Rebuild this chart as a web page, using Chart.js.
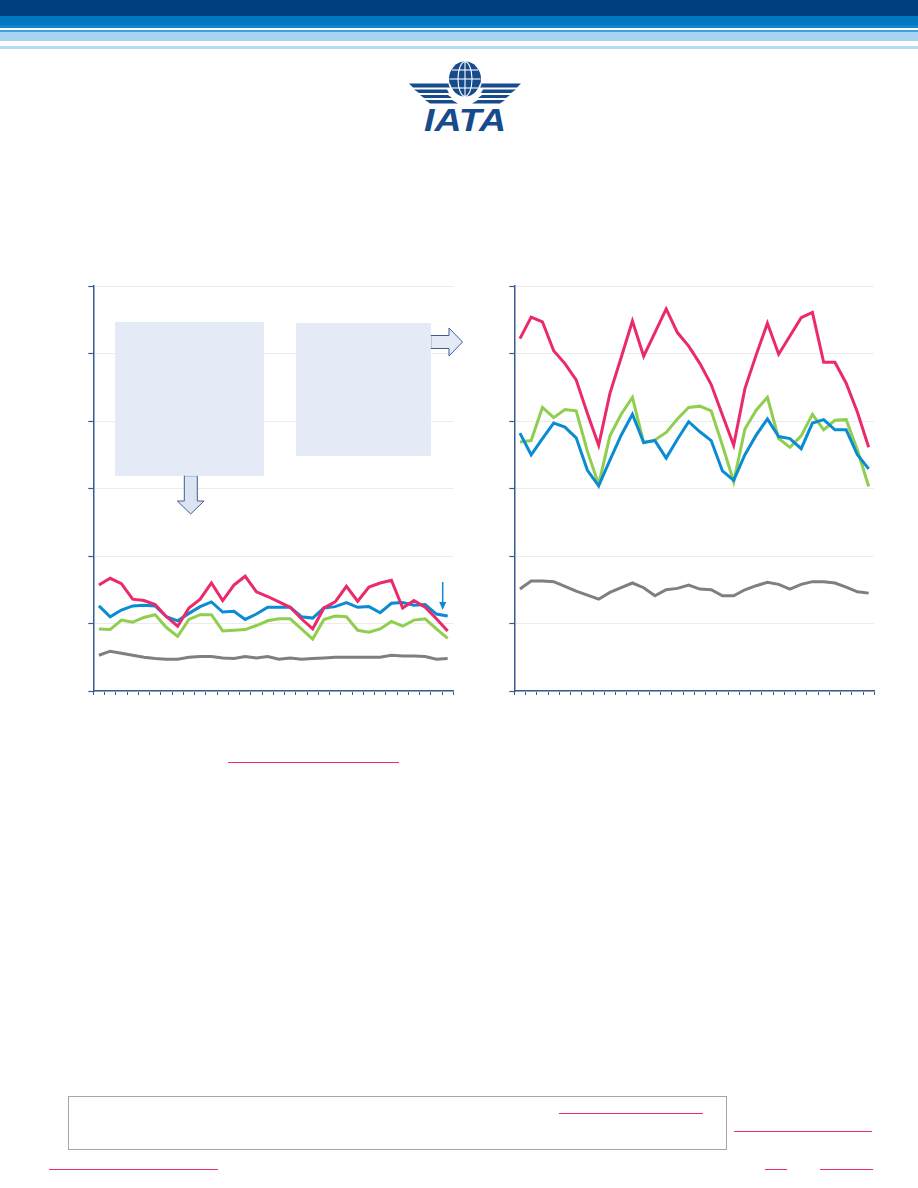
<!DOCTYPE html>
<html>
<head>
<meta charset="utf-8">
<script src="https://cdn.jsdelivr.net/npm/chart.js@4.4.1/dist/chart.umd.min.js"></script>
<style>
  html, body { margin: 0; padding: 0; background: #ffffff; }
  body { width: 918px; height: 1188px; position: relative; overflow: hidden; font-family: "Liberation Sans", Arial, sans-serif; }
  .abs { position: absolute; }
  .band { position: absolute; left: 0; width: 918px; }
  .ul { position: absolute; height: 0; border-top: 1.5px solid #EF2A74; }
</style>
</head>
<body>
<script>
// ---------- DATA ----------
const categories = ['1','2','3','4','5','6','7','8','9','10','11','12','13','14','15','16',
                    '17','18','19','20','21','22','23','24','25','26','27','28','29','30','31','32'];
const yTicks = [0, 1, 2, 3, 4, 5, 6];

// Left panel
const leftRed   = [1.57,1.67,1.59,1.36,1.34,1.28,1.10,0.96,1.23,1.36,1.60,1.34,1.57,1.70,1.47,1.40,
                   1.32,1.24,1.07,0.92,1.23,1.32,1.55,1.33,1.54,1.60,1.64,1.23,1.34,1.24,1.07,0.89];
const leftBlue  = [1.26,1.10,1.20,1.26,1.27,1.26,1.10,1.04,1.15,1.25,1.32,1.17,1.18,1.06,1.14,1.24,
                   1.24,1.24,1.10,1.08,1.23,1.25,1.31,1.24,1.25,1.16,1.30,1.31,1.27,1.28,1.14,1.11];
const leftGreen = [0.92,0.91,1.05,1.02,1.09,1.13,0.94,0.81,1.06,1.13,1.13,0.89,0.90,0.91,0.97,1.04,
                   1.07,1.07,0.92,0.77,1.06,1.11,1.10,0.90,0.87,0.92,1.03,0.96,1.05,1.07,0.92,0.78];
const leftGray  = [0.53,0.59,0.56,0.53,0.50,0.48,0.47,0.47,0.50,0.51,0.51,0.49,0.48,0.51,0.49,0.51,
                   0.47,0.49,0.47,0.48,0.49,0.50,0.50,0.50,0.50,0.50,0.53,0.52,0.52,0.51,0.47,0.48];

// Right panel
const rightRed   = [5.22,5.54,5.47,5.04,4.85,4.61,4.11,3.64,4.41,4.94,5.48,4.96,5.31,5.66,5.31,5.11,
                    4.85,4.54,4.09,3.64,4.48,4.98,5.45,4.99,5.26,5.53,5.61,4.87,4.87,4.56,4.13,3.61];
const rightBlue  = [3.82,3.50,3.74,3.97,3.91,3.75,3.27,3.04,3.42,3.79,4.10,3.68,3.71,3.45,3.73,3.99,
                    3.84,3.71,3.26,3.12,3.50,3.79,4.03,3.77,3.74,3.59,3.97,4.02,3.87,3.87,3.50,3.29];
const rightGreen = [3.69,3.71,4.20,4.05,4.17,4.15,3.55,3.06,3.78,4.10,4.35,3.68,3.72,3.83,4.03,4.20,
                    4.22,4.15,3.64,3.10,3.88,4.16,4.35,3.74,3.61,3.78,4.10,3.87,4.01,4.02,3.57,3.03];
const rightGray  = [1.51,1.63,1.63,1.62,1.55,1.48,1.42,1.36,1.46,1.53,1.60,1.53,1.41,1.50,1.52,1.57,
                    1.51,1.50,1.41,1.41,1.50,1.56,1.61,1.58,1.51,1.58,1.62,1.62,1.60,1.54,1.47,1.45];

const seriesColors = { red: '#EA2A6B', blue: '#0A8BD3', green: '#8FCE4F', gray: '#7F7F7F' };
</script>

<!-- Header bands -->
<div class="band" style="top:0;height:16px;background:#003F7E;"></div>
<div class="band" style="top:16px;height:9px;background:#0078C0;"></div>
<div class="band" style="top:25px;height:3px;background:#0A86CC;"></div>
<div class="band" style="top:30px;height:2px;background:#3FA2DE;"></div>
<div class="band" style="top:32px;height:9px;background:#A6D4F2;"></div>
<div class="band" style="top:46px;height:3px;background:#B6DCF5;"></div>

<!-- Logo -->
<svg class="abs" style="left:400px;top:55px;" width="130" height="85" viewBox="400 55 130 85">
  <g fill="#164B8C">
    <ellipse cx="465" cy="79" rx="16" ry="17.5"/>
    <!-- left wing -->
    <polygon points="409,83.5 449,83.5 450,87.5 413,87.5"/>
    <polygon points="414,89.5 447,89.5 449,93 419,93"/>
    <polygon points="420,95 448,95 452,98 424,98"/>
    <polygon points="425,100 452,100 458,103.5 430,103.5"/>
    <!-- right wing -->
    <polygon points="521,83.5 481,83.5 480,87.5 517,87.5"/>
    <polygon points="516,89.5 483,89.5 481,93 511,93"/>
    <polygon points="510,95 482,95 478,98 506,98"/>
    <polygon points="505,100 478,100 472,103.5 500,103.5"/>
  </g>
  <g fill="none" stroke="#ffffff" stroke-width="1.1">
    <line x1="465" y1="61.5" x2="465" y2="96.5"/>
    <ellipse cx="465" cy="79" rx="7" ry="17.3"/>
    <line x1="449.5" y1="79" x2="480.5" y2="79"/>
    <line x1="452" y1="70" x2="478" y2="70"/>
    <line x1="452" y1="88" x2="478" y2="88"/>
    <path d="M449,83.5 Q456,101 465,97 Q474,101 481,83.5" stroke-width="1.6"/>
  </g>
  <text x="465" y="131" text-anchor="middle" font-family="Liberation Sans, Arial, sans-serif" font-weight="bold" font-style="italic" font-size="31" fill="#164B8C" textLength="82" lengthAdjust="spacingAndGlyphs">IATA</text>
</svg>

<!-- Charts -->
<canvas id="leftChart" class="abs" style="left:60px;top:270px;" width="420" height="440"></canvas>
<canvas id="rightChart" class="abs" style="left:480px;top:270px;" width="420" height="440"></canvas>

<!-- Left panel annotation boxes and arrows -->
<svg class="abs" style="left:0;top:0;" width="918" height="720" viewBox="0 0 918 720">
  <rect x="115" y="322" width="149" height="154" fill="#E4EBF6"/>
  <rect x="296" y="323" width="135" height="133" fill="#E4EBF6"/>
  <!-- right arrow -->
  <polygon points="431,335.5 449,335.5 449,328 462.5,342 449,356 449,348.5 431,348.5" fill="#E4EBF6" stroke="#3E5E93" stroke-width="1"/>
  <rect x="430" y="336" width="1.5" height="12" fill="#E4EBF6"/>
  <!-- down arrow -->
  <polygon points="184.3,476 184.3,501 177.3,501 190.7,514 204,501 197.3,501 197.3,476" fill="#DCE4F1" stroke="#3E5E93" stroke-width="1"/>
  <rect x="185" y="475" width="12" height="1.5" fill="#DCE4F1"/>
  <!-- small blue arrow -->
  <line x1="442.7" y1="582" x2="442.7" y2="603" stroke="#0A8BD3" stroke-width="1.5"/>
  <polygon points="439.2,602 446.2,602 442.7,610" fill="#0A8BD3"/>
</svg>

<!-- link underlines -->
<div class="ul" style="left:228px;top:762px;width:171px;"></div>

<!-- Footer -->
<div class="abs" style="left:68px;top:1096px;width:657px;height:52px;border:1.5px solid #A6A6A6;"></div>
<div class="ul" style="left:559px;top:1113px;width:144px;"></div>
<div class="ul" style="left:734px;top:1131px;width:138px;"></div>
<div class="ul" style="left:49px;top:1169px;width:169px;"></div>
<div class="ul" style="left:765px;top:1169px;width:22px;"></div>
<div class="ul" style="left:820px;top:1169px;width:53px;"></div>

<script>
const navy = '#3B5A8F';
function makeOptions(padLeft, padRight) {
  return {
    responsive: false,
    animation: false,
    events: [],
    layout: { padding: { left: padLeft, right: padRight, top: 16, bottom: 15 } },
    plugins: { legend: { display: false }, tooltip: { enabled: false }, title: { display: false } },
    elements: { point: { radius: 0 }, line: { borderWidth: 3, tension: 0, borderJoinStyle: 'miter', borderCapStyle: 'butt' } },
    scales: {
      x: {
        type: 'category',
        offset: true,
        grid: { offset: true, drawOnChartArea: false, drawTicks: true, tickLength: 4, tickColor: navy, tickWidth: 1 },
        border: { display: true, color: navy, width: 1.5 },
        ticks: { display: false }
      },
      y: {
        min: yTicks[0],
        max: yTicks[yTicks.length - 1],
        afterBuildTicks: (axis) => { axis.ticks = yTicks.map(v => ({ value: v })); },
        grid: { color: '#ECECEC', lineWidth: 1, drawTicks: true, tickLength: 5, tickColor: navy, tickWidth: 1.2 },
        border: { display: true, color: navy, width: 1.5 },
        ticks: { display: false }
      }
    }
  };
}
function ds(data, color) {
  return { data: data, borderColor: color, backgroundColor: color, fill: false, pointRadius: 0 };
}
new Chart(document.getElementById('leftChart'), {
  type: 'line',
  data: {
    labels: categories,
    datasets: [
      ds(leftRed, seriesColors.red),
      ds(leftBlue, seriesColors.blue),
      ds(leftGreen, seriesColors.green),
      ds(leftGray, seriesColors.gray)
    ]
  },
  options: makeOptions(28.3, 26.7)
});
new Chart(document.getElementById('rightChart'), {
  type: 'line',
  data: {
    labels: categories,
    datasets: [
      ds(rightRed, seriesColors.red),
      ds(rightBlue, seriesColors.blue),
      ds(rightGreen, seriesColors.green),
      ds(rightGray, seriesColors.gray)
    ]
  },
  options: makeOptions(29.3, 25.7)
});
</script>
</body>
</html>
